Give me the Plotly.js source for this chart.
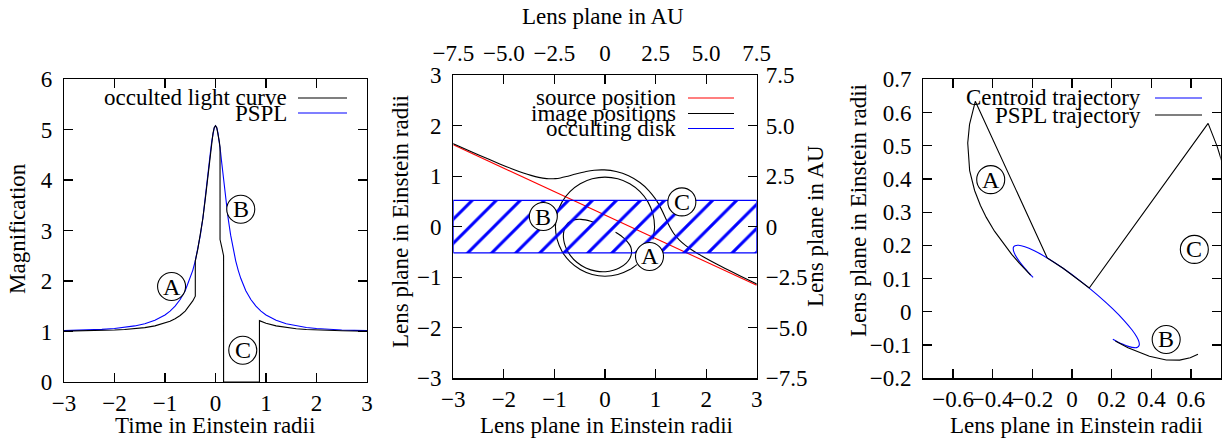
<!DOCTYPE html>
<html>
<head>
<meta charset="utf-8">
<script src="https://cdn.plot.ly/plotly-3.0.1.min.js"></script>
<style>html,body{margin:0;padding:0;background:#fff;}#chart{width:1226px;height:440px;}</style>
</head>
<body>
<div id="chart"></div>
<script>
// ---------- Panel 1: light curves ----------
const timePSPL = [-3, -2.75, -2.5, -2.25, -2, -1.8, -1.6, -1.4, -1.2, -1, -0.9, -0.8, -0.7, -0.6, -0.5, -0.45, -0.4, -0.35, -0.3, -0.25, -0.2, -0.175, -0.15, -0.125, -0.1, -0.075, -0.05, -0.025, 0,
  0.025, 0.05, 0.075, 0.1, 0.125, 0.15, 0.175, 0.2, 0.25, 0.3, 0.35, 0.4, 0.45, 0.5, 0.6, 0.7, 0.8, 0.9, 1, 1.2, 1.4, 1.6, 1.8, 2, 2.25, 2.5, 2.75, 3];
const magPSPL = [1.0168, 1.0224, 1.0304, 1.0422, 1.0598, 1.0806, 1.1104, 1.1547, 1.222, 1.328, 1.4036, 1.502, 1.633, 1.809, 2.053, 2.2109, 2.400, 2.6295, 2.907, 3.242, 3.641, 3.8619, 4.093, 4.3279, 4.555, 4.7614, 4.926, 5.0366, 5.075,
  5.0366, 4.926, 4.7614, 4.555, 4.3279, 4.093, 3.8619, 3.641, 3.242, 2.907, 2.6295, 2.400, 2.2109, 2.053, 1.809, 1.633, 1.502, 1.4036, 1.328, 1.222, 1.1547, 1.1104, 1.0806, 1.0598, 1.0422, 1.0304, 1.0224, 1.0168];
const timeOcc = [-3, -2.75, -2.5, -2.25, -2, -1.8, -1.6, -1.4, -1.2, -1, -0.9, -0.8, -0.7, -0.6, -0.5, -0.45, -0.4, -0.4, -0.35, -0.3, -0.25, -0.2, -0.175, -0.15, -0.125, -0.1, -0.075, -0.05, -0.025, 0,
  0.025, 0.05, 0.075, 0.09, 0.09, 0.125, 0.16, 0.16, 0.87, 0.87, 0.9, 1, 1.2, 1.4, 1.6, 1.8, 2, 2.25, 2.5, 2.75, 3];
const magOcc = [1.0084, 1.0112, 1.0152, 1.0211, 1.0299, 1.0403, 1.0552, 1.0774, 1.111, 1.164, 1.2018, 1.251, 1.3165, 1.4045, 1.5265, 1.6055, 1.70, 2.40, 2.6295, 2.907, 3.242, 3.641, 3.8619, 4.093, 4.3279, 4.555, 4.7614, 4.926, 5.0366, 5.075,
  5.0366, 4.926, 4.7614, 4.6414, 2.8207, 2.664, 2.50, 0, 0, 1.2152, 1.2018, 1.164, 1.111, 1.0774, 1.0552, 1.0403, 1.0299, 1.0211, 1.0152, 1.0112, 1.0084];

// ---------- Panel 2: lens plane ----------
const sourceX = [-3, 3];
const sourceY = [1.62, -1.16];
const majorX = [-3.7505, -3.2362, -2.8992, -2.4848, -2.0815, -1.8458, -1.6150, -1.4630, -1.3109, -1.1544, -1.0717, -0.9826, -0.8828, -0.7631, -0.6054, -0.3747, -0.2141, -0.0146, 0.2193, 0.4663, 0.6902, 0.8652, 0.9898, 1.0753, 1.1810, 1.2493, 1.3600, 1.4716, 1.5914, 1.7194, 1.9244, 2.2929, 2.6847, 3.0923, 3.5104];
const majorY = [1.9812, 1.7480, 1.5964, 1.4133, 1.2416, 1.1470, 1.0624, 1.0140, 0.9752, 0.9509, 0.9468, 0.9501, 0.9639, 0.9913, 1.0353, 1.0925, 1.1167, 1.1222, 1.0910, 1.0070, 0.8732, 0.7148, 0.5586, 0.4206, 0.2077, 0.0588, -0.1351, -0.2657, -0.3694, -0.4605, -0.5860, -0.7851, -0.9817, -1.1795, -1.3789];
const minorX = [0.2086, 0.2648, 0.3544, 0.4180, 0.4912, 0.5162, 0.5259, 0.5168, 0.4878, 0.4209, 0.2809, 0.1657, 0.0115, -0.1770, -0.3786, -0.5571, -0.6868, -0.7660, -0.8061, -0.8214, -0.8211, -0.7986, -0.7279, -0.6580, -0.5963, -0.4756, -0.3904, -0.2824, -0.2189];
const minorY = [-0.1102, -0.1458, -0.2114, -0.2692, -0.3654, -0.4252, -0.5085, -0.5643, -0.6337, -0.7198, -0.8190, -0.8642, -0.8908, -0.8806, -0.8177, -0.7048, -0.5674, -0.4323, -0.3153, -0.2201, -0.1444, -0.0376, 0.0723, 0.1188, 0.1384, 0.1448, 0.1337, 0.1077, 0.0879];
const ringX = [0.9466, 0.98, 0.9466, 0.8487, 0.6930, 0.49, 0.2536, 0, -0.2536, -0.49, -0.6930, -0.8487, -0.9466, -0.98, -0.9466, -0.8487, -0.6930, -0.49, -0.2536, 0, 0.2536, 0.49, 0.6299];
const ringY = [-0.2536, 0, 0.2536, 0.49, 0.6930, 0.8487, 0.9466, 0.98, 0.9466, 0.8487, 0.6930, 0.49, 0.2536, 0, -0.2536, -0.49, -0.6930, -0.8487, -0.9466, -0.98, -0.9466, -0.8487, -0.7507];
const diskEdgesX = [-3, 3];
const diskTop = 0.52;
const diskBottom = -0.52;
const auTickVals = [-7.5, -5, -2.5, 0, 2.5, 5, 7.5];
const auTickText = ['\u22127.5', '\u22125.0', '\u22122.5', '0', '2.5', '5.0', '7.5'];

// ---------- Panel 3: centroid trajectories ----------
const centroidX = [-0.1963, -0.2078, -0.2203, -0.2386, -0.2630, -0.2858, -0.2949, -0.2954, -0.2874, -0.2693, -0.2378, -0.1900, -0.1249, -0.0450, 0.0429, 0.1292, 0.2045, 0.2630, 0.3032, 0.3269, 0.3378, 0.3392, 0.3304, 0.3148, 0.2841, 0.2544, 0.2283, 0.2060];
const centroidY = [0.1037, 0.1109, 0.1190, 0.1314, 0.1496, 0.1705, 0.1833, 0.1943, 0.1992, 0.2004, 0.1959, 0.1837, 0.1623, 0.1313, 0.0927, 0.0505, 0.0096, -0.0261, -0.0547, -0.0759, -0.0905, -0.0997, -0.1065, -0.1078, -0.1039, -0.0971, -0.0897, -0.0827];
const psplTrajX = [-0.2086, -0.2230, -0.2392, -0.2648, -0.3041, -0.3544, -0.3909, -0.4323, -0.4618, -0.4912, -0.5162, -0.5259, -0.5168, -0.4878, -0.1249, -0.0450, 0.0429, 0.0869, 0.6865, 0.7320, 0.7660, null,
  0.6354, 0.5963, 0.5428, 0.4755, 0.3904, 0.3285, 0.2824, 0.2468, 0.2188];
const psplTrajY = [0.1102, 0.1190, 0.1292, 0.1458, 0.1729, 0.2114, 0.2429, 0.2844, 0.3201, 0.3654, 0.4252, 0.5085, 0.5643, 0.6337, 0.1623, 0.1313, 0.0927, 0.0718, 0.5672, 0.4980, 0.4325, null,
  -0.1277, -0.1384, -0.1454, -0.1448, -0.1337, -0.1201, -0.1077, -0.0970, -0.0878];
const p3TickVals = [-0.6, -0.4, -0.2, 0, 0.2, 0.4, 0.6];

// ---------- circled labels ----------
const labelText = ['A', 'B', 'C', 'B', 'C', 'A', 'A', 'B', 'C'];
const labelX = [-0.87, 0.50, 0.54, -1.22, 1.52, 0.88, -0.41, 0.475, 0.617];
const labelY = [1.89, 3.42, 0.63, 0.20, 0.49, -0.59, 0.398, -0.083, 0.188];
const labelAxes = [['x', 'y'], ['x', 'y'], ['x', 'y'], ['x2', 'y2'], ['x2', 'y2'], ['x2', 'y2'], ['x3', 'y3'], ['x3', 'y3'], ['x3', 'y3']];

// ---------- drawing ----------
const W = 1226, H = 440;
const FONT = "'Liberation Serif', 'Times New Roman', 'DejaVu Serif', serif";
const FS = 23;
const px = v => v / W;
const py = v => 1 - v / H;

const traces = [
  {x: timePSPL, y: magPSPL, xaxis: 'x', yaxis: 'y', mode: 'lines', line: {color: '#0000ff', width: 1.1}, hoverinfo: 'skip'},
  {x: timeOcc, y: magOcc, xaxis: 'x', yaxis: 'y', mode: 'lines', line: {color: '#000000', width: 1.1}, hoverinfo: 'skip'},

  {x: sourceX, y: sourceY, xaxis: 'x2', yaxis: 'y2', mode: 'lines', line: {color: '#ff0000', width: 1.1}, hoverinfo: 'skip'},
  {x: majorX.concat([null], minorX, [null], ringX), y: majorY.concat([null], minorY, [null], ringY), xaxis: 'x2', yaxis: 'y2', mode: 'lines', connectgaps: false,
   line: {color: '#000000', width: 1.1, shape: 'spline', smoothing: 0.8}, hoverinfo: 'skip'},
  {x: [diskEdgesX[0], diskEdgesX[1], diskEdgesX[1], diskEdgesX[0], diskEdgesX[0]], y: [diskBottom, diskBottom, diskTop, diskTop, diskBottom],
   xaxis: 'x2', yaxis: 'y2', mode: 'lines', fill: 'toself', fillcolor: 'rgba(0,0,0,0)',
   fillpattern: {shape: '/', fgcolor: '#0000ff', bgcolor: 'rgba(0,0,0,0)', size: 17, solidity: 0.18},
   line: {color: '#0000ff', width: 1.3}, hoverinfo: 'skip'},
  // invisible carrier so the AU axes (top / right) are drawn
  {x: auTickVals, y: auTickVals, xaxis: 'x4', yaxis: 'y4', mode: 'markers', marker: {opacity: 0}, hoverinfo: 'skip'},

  {x: centroidX, y: centroidY, xaxis: 'x3', yaxis: 'y3', mode: 'lines', line: {color: '#0000ff', width: 1.1, shape: 'spline', smoothing: 0.6}, hoverinfo: 'skip'},
  {x: psplTrajX, y: psplTrajY, xaxis: 'x3', yaxis: 'y3', mode: 'lines', connectgaps: false, line: {color: '#000000', width: 1.1}, hoverinfo: 'skip'}
];

const axBase = {
  showline: true, linecolor: '#000', linewidth: 1.2, mirror: 'ticks', ticks: 'inside', ticklen: 9, tickcolor: '#000', tickwidth: 1.2,
  showgrid: false, zeroline: false, tickangle: 0, fixedrange: true,
  tickfont: {family: FONT, size: FS, color: '#000'}
};
const xBase = Object.assign({}, axBase, {ticklabelstandoff: 0});
const yBase = Object.assign({}, axBase, {ticklabelstandoff: 6});

const layout = {
  width: W, height: H, margin: {l: 0, r: 0, t: 0, b: 0}, paper_bgcolor: '#fff', plot_bgcolor: '#fff', showlegend: false,
  font: {family: FONT, size: FS, color: '#000'},
  xaxis: Object.assign({}, xBase, {domain: [px(64), px(367)], range: [-3, 3], dtick: 1, tick0: 0, anchor: 'y'}),
  yaxis: Object.assign({}, yBase, {domain: [py(382), py(79)], range: [0, 6], dtick: 1, tick0: 0, anchor: 'x'}),
  xaxis2: Object.assign({}, xBase, {domain: [px(453.3), px(756.7)], range: [-3, 3], dtick: 1, tick0: 0, anchor: 'y2'}),
  yaxis2: Object.assign({}, yBase, {domain: [py(378.3), py(75)], range: [-3, 3], dtick: 1, tick0: 0, anchor: 'x2'}),
  xaxis4: Object.assign({}, xBase, {overlaying: 'x2', side: 'top', anchor: 'y2', range: [-7.5, 7.5], tickmode: 'array', tickvals: auTickVals, ticktext: auTickText, ticks: '', showline: false, ticklabelstandoff: 8}),
  yaxis4: Object.assign({}, yBase, {overlaying: 'y2', side: 'right', anchor: 'x2', range: [-7.5, 7.5], tickmode: 'array', tickvals: auTickVals, ticktext: auTickText, ticks: '', showline: false, ticklabelstandoff: 8}),
  xaxis3: Object.assign({}, xBase, {domain: [px(923.3), px(1220.7)], range: [-0.75, 0.75], tickmode: 'array', tickvals: p3TickVals, anchor: 'y3'}),
  yaxis3: Object.assign({}, yBase, {domain: [py(378.3), py(79.3)], range: [-0.2, 0.7], dtick: 0.1, tick0: 0, anchor: 'x3'}),
  shapes: [],
  annotations: []
};

function addText(text, x, y, opts) {
  layout.annotations.push(Object.assign({text: text, x: px(x), y: py(y), xref: 'paper', yref: 'paper', showarrow: false,
    xanchor: 'center', yanchor: 'middle', font: {family: FONT, size: FS, color: '#000'}}, opts || {}));
}
addText('Time in Einstein radii', 215, 425);
addText('Magnification', 17, 229, {textangle: -90});
addText('Lens plane in Einstein radii', 606.7, 425);
addText('Lens plane in Einstein radii', 400, 222, {textangle: -90});
addText('Lens plane in AU', 602.5, 17);
addText('Lens plane in AU', 815, 226, {textangle: -90});
addText('Lens plane in Einstein radii', 1076.7, 425);
addText('Lens plane in Einstein radii', 859, 211, {textangle: -90});

function addKey(text, textRight, lineX0, lineX1, y, color) {
  addText(text, textRight, y, {xanchor: 'right'});
  layout.shapes.push({type: 'line', xref: 'paper', yref: 'paper', x0: px(lineX0), x1: px(lineX1), y0: py(y), y1: py(y), line: {color: color, width: 1.1}});
}
addKey('occulted light curve', 289, 298, 347, 98, '#000000');
addKey('PSPL', 289, 298, 347, 113, '#0000ff');
addKey('source position', 678, 688, 734, 98, '#ff0000');
addKey('image positions', 678, 688, 734, 113.5, '#000000');
addKey('occulting disk', 678, 688, 734, 128.5, '#0000ff');
addKey('Centroid trajectory', 1143, 1155, 1202, 98, '#0000ff');
addKey('PSPL trajectory', 1143, 1155, 1202, 115, '#000000');

for (let i = 0; i < labelText.length; i++) {
  const [xr, yr] = labelAxes[i];
  layout.shapes.push({type: 'circle', xref: xr, yref: yr, xsizemode: 'pixel', ysizemode: 'pixel', xanchor: labelX[i], yanchor: labelY[i],
    x0: -14, x1: 14, y0: -14, y1: 14, fillcolor: '#ffffff', line: {color: '#000', width: 1.1}, layer: 'above'});
  layout.annotations.push({text: labelText[i], x: labelX[i], y: labelY[i], xref: xr, yref: yr, showarrow: false,
    xanchor: 'center', yanchor: 'middle', font: {family: FONT, size: 24, color: '#000'}});
}

Plotly.newPlot('chart', traces, layout, {staticPlot: true, displayModeBar: false});
</script>
</body>
</html>
